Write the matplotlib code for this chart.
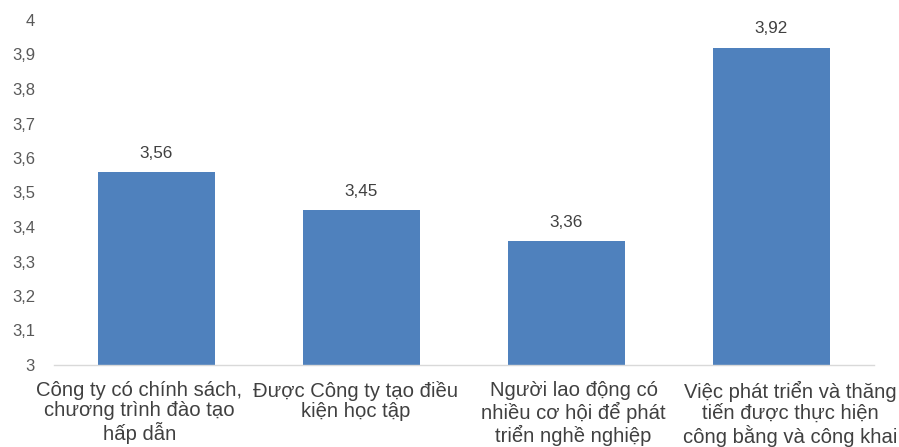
import matplotlib
matplotlib.use("Agg")
import matplotlib.pyplot as plt
from matplotlib.ticker import FixedLocator
from matplotlib.transforms import ScaledTranslation

plt.rcParams['font.family'] = ['Liberation Sans', 'DejaVu Sans']

categories = [
    "Công ty có chính sách,\nchương trình đào tạo\nhấp dẫn",
    "Được Công ty tạo điều\nkiện học tập",
    "Người lao động có\nnhiều cơ hội để phát\ntriển nghề nghiệp",
    "Việc phát triển và thăng\ntiến được thực hiện\ncông bằng và công khai",
]
values = [3.56, 3.45, 3.36, 3.92]
y_ticks = [3.0, 3.1, 3.2, 3.3, 3.4, 3.5, 3.6, 3.7, 3.8, 3.9, 4.0]
y_tick_labels = ["3", "3,1", "3,2", "3,3", "3,4", "3,5", "3,6", "3,7", "3,8", "3,9", "4"]

fig = plt.figure(figsize=(8.99, 4.47), dpi=100)
ax = fig.add_axes([54 / 899, 82 / 447, 820 / 899, 345 / 447])

x = list(range(len(categories)))
ax.bar(x, [v - 3 for v in values], bottom=3, width=0.575, color="#4F81BD")

for xi, v in zip(x, values):
    ax.annotate(f"{v:.2f}".replace(".", ","), (xi, v), xytext=(0, 8),
                textcoords="offset points", ha="center", va="bottom",
                fontsize=12.3, color="#404040")

ax.set_xlim(-0.5, len(categories) - 0.5)
ax.set_ylim(3, 4)
ax.yaxis.set_major_locator(FixedLocator(y_ticks))
ax.set_yticklabels(y_tick_labels)
ax.set_xticks(x)
ax.set_xticklabels(categories, fontsize=14.6, color="#404040", linespacing=1.1)

ax.tick_params(axis="y", length=0, pad=13.7, labelsize=12, labelcolor="#595959")
ax.tick_params(axis="x", length=0, pad=11.5)

# wrapped labels spread slightly outward from the bar centres
label_shift_px = [-17, -6, 7, 19]
for lbl, dx in zip(ax.get_xticklabels(), label_shift_px):
    lbl.set_transform(lbl.get_transform() + ScaledTranslation(dx / 100, 0, fig.dpi_scale_trans))

for side in ["top", "right", "left"]:
    ax.spines[side].set_visible(False)
ax.spines["bottom"].set_color("#D9D9D9")
ax.spines["bottom"].set_linewidth(1)

fig.savefig("out.png", dpi=100)
